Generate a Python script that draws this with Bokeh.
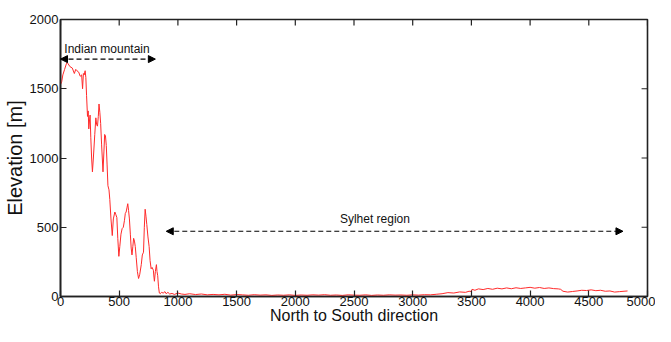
from bokeh.plotting import figure
from bokeh.models import Range1d, FixedTicker, Arrow, NormalHead, Label
from bokeh.embed import file_html
from bokeh.resources import INLINE

# ---- data ----
distance = [0, 10, 20, 35, 50, 56, 65, 80, 100, 118, 130, 140, 155, 168, 180, 188, 195, 202,
            210, 216, 222, 230, 236, 241, 246, 252, 258, 265, 272, 280, 292, 301, 308, 315,
            322, 328, 335, 342, 350, 362, 370, 376, 383, 390, 397, 404, 413, 420, 430, 441,
            450, 463, 472, 480, 488, 497, 505, 515, 525, 535, 545, 552, 559, 566, 573, 580,
            587, 595, 602, 609, 616, 623, 630, 637, 645, 655, 665, 675, 688, 697, 707, 714,
            721, 728, 735, 745, 755, 763, 772, 780, 791, 796, 800, 808, 817, 822, 828, 835,
            842, 850, 860, 875, 890, 900, 915, 930, 950, 970, 1000, 1030, 1060, 1100, 1150,
            1200, 1250, 1300, 1350, 1400, 1450, 1500, 1550, 1600, 1650, 1700, 1750, 1800,
            1850, 1900, 1950, 2000, 2050, 2100, 2150, 2200, 2250, 2300, 2350, 2400, 2450,
            2500, 2550, 2600, 2650, 2700, 2750, 2800, 2850, 2900, 2950, 3000, 3050, 3100,
            3150, 3200, 3250, 3300, 3350, 3400, 3450, 3480, 3500, 3505, 3530, 3560, 3600,
            3640, 3680, 3720, 3760, 3800, 3840, 3880, 3920, 3960, 4000, 4040, 4080, 4120,
            4160, 4200, 4240, 4260, 4280, 4320, 4360, 4400, 4440, 4480, 4520, 4560, 4600,
            4640, 4680, 4720, 4760, 4800, 4830]
elevation = [1530, 1550, 1600, 1640, 1680, 1690, 1680, 1660, 1650, 1610, 1640, 1630, 1620,
             1590, 1600, 1500, 1610, 1600, 1630, 1580, 1450, 1300, 1340, 1210, 1260, 1310,
             1150, 1000, 900, 1000, 1170, 1290, 1240, 1230, 1300, 1390, 1330, 1250, 1100,
             900, 1050, 1170, 1160, 1090, 950, 800, 770, 700, 560, 440, 560, 610, 590, 570,
             420, 290, 360, 450, 490, 500, 550, 600, 610, 640, 670, 620, 560, 450, 350, 300,
             360, 420, 400, 360, 280, 180, 130, 160, 230, 300, 320, 500, 630, 580, 520, 430,
             360, 260, 200, 210, 190, 140, 110, 180, 230, 180, 150, 70, 25, 20, 30, 25, 35,
             20, 30, 18, 22, 15, 25, 18, 15, 20, 14, 18, 12, 15, 12, 16, 10, 14, 12, 9, 13,
             10, 12, 8, 11, 9, 12, 8, 11, 9, 12, 10, 13, 9, 11, 8, 12, 10, 9, 12, 8, 11, 9,
             12, 10, 11, 9, 12, 10, 13, 12, 16, 20, 28, 25, 33, 30, 38, 36, 52, 45, 55, 50,
             58, 52, 60, 55, 62, 56, 63, 58, 62, 66, 60, 65, 58, 62, 57, 55, 52, 38, 32, 36,
             40, 45, 43, 48, 42, 45, 38, 40, 32, 35, 38, 40]

x_ticks = [0, 500, 1000, 1500, 2000, 2500, 3000, 3500, 4000, 4500, 5000]
y_ticks = [0, 500, 1000, 1500, 2000]

x_label = "North to South direction"
y_label = "Elevation [m]"

# annotation ranges: (start, end, level, text, text_x, text_y)
mountain_span = (0, 808, 1714, "Indian mountain", 396, 1790)
sylhet_span = (901, 4791, 471, "Sylhet region", 2678, 557)

X_MIN, X_MAX = 0, 5000
Y_MIN, Y_MAX = 0, 2000

FONT = "Liberation Sans"
AXIS_COL = "#222222"
TICK_PX = 6

p = figure(width=655, height=326, output_backend="svg", toolbar_location=None,
           x_range=Range1d(X_MIN, X_MAX), y_range=Range1d(Y_MIN, Y_MAX),
           min_border_left=53, min_border_right=8, min_border_top=19, min_border_bottom=30)
p.xgrid.visible = False
p.ygrid.visible = False
p.outline_line_color = AXIS_COL
p.outline_line_width = 1.6
p.outline_line_alpha = 1.0
p.background_fill_color = "white"

p.line(distance, elevation, line_color="#ff2a2a", line_width=1.0)

def style_axis(ax, ticks):
    ax.ticker = FixedTicker(ticks=ticks)
    ax.axis_line_color = AXIS_COL
    ax.axis_line_width = 1.6
    ax.major_tick_line_color = AXIS_COL
    ax.major_tick_line_width = 1.2
    ax.major_tick_in = TICK_PX
    ax.major_tick_out = 0
    ax.minor_tick_line_color = None
    ax.major_label_text_font = FONT
    ax.major_label_text_font_size = "13px"
    ax.major_label_text_color = "#111111"
    ax.major_label_standoff = 3
    ax.axis_label_text_font = FONT
    ax.axis_label_text_font_style = "normal"
    ax.axis_label_text_color = "#111111"

xa = p.xaxis[0]
style_axis(xa, x_ticks)
xa.axis_label = x_label
xa.axis_label_text_font_size = "16px"
xa.axis_label_standoff = -2
xa.major_label_standoff = 0

ya = p.yaxis[0]
style_axis(ya, y_ticks)
ya.axis_label = y_label
ya.axis_label_text_font_size = "20px"
ya.axis_label_standoff = 1
ya.major_label_standoff = 2

# inward ticks on the top and right frame edges (MATLAB-style box)
frame_h = 277
frame_w = 595
p.segment(x0=x_ticks, y0=[Y_MAX] * len(x_ticks), x1=x_ticks,
          y1=[Y_MAX - TICK_PX * (Y_MAX - Y_MIN) / frame_h] * len(x_ticks),
          line_color=AXIS_COL, line_width=1.2)
p.segment(x0=[X_MAX] * len(y_ticks), y0=y_ticks,
          x1=[X_MAX - TICK_PX * (X_MAX - X_MIN) / frame_w] * len(y_ticks), y1=y_ticks,
          line_color=AXIS_COL, line_width=1.2)

for (x0, x1, lvl, txt, tx, ty) in (mountain_span, sylhet_span):
    p.add_layout(Arrow(x_start=x0, y_start=lvl, x_end=x1, y_end=lvl,
                       line_color="black", line_width=1.2, line_dash="5 3",
                       start=NormalHead(size=7, fill_color="black", line_color="black"),
                       end=NormalHead(size=7, fill_color="black", line_color="black")))
    p.add_layout(Label(x=tx, y=ty, text=txt, text_font=FONT, text_font_size="12px",
                       text_color="#111111", text_align="center", text_baseline="middle"))

open("out.html", "w").write(file_html(p, INLINE))
